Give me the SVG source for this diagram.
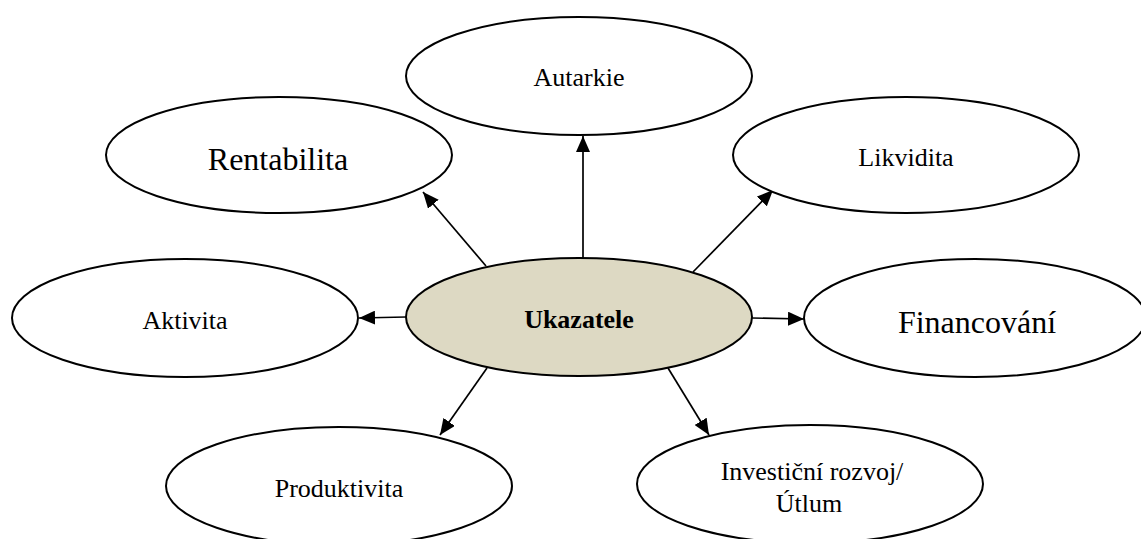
<svg xmlns="http://www.w3.org/2000/svg" width="1141" height="539" viewBox="0 0 1141 539">
<style>
.n{fill:#ffffff;stroke:#000000;stroke-width:2}
.c{fill:#DDD9C3;stroke:#000000;stroke-width:2}
.t{font-family:"Liberation Serif","Times New Roman",serif;font-size:26px;fill:#000000;text-anchor:middle}
.big{font-size:32px}
.b{font-weight:bold}
.e{stroke:#000000;stroke-width:1.7;fill:none;marker-end:url(#ah)}
</style>
<defs>
<marker id="ah" markerUnits="userSpaceOnUse" markerWidth="16" markerHeight="14" refX="16" refY="7" orient="auto">
<path d="M0,0 L16,7 L0,14 z" fill="#000000"/>
</marker>
</defs>
<rect width="1141" height="539" fill="#ffffff"/>
<g id="connectors">
<line class="e" x1="583" y1="258" x2="583" y2="136"/>
<line class="e" x1="486" y1="266" x2="423" y2="192"/>
<line class="e" x1="693" y1="272" x2="773" y2="190"/>
<line class="e" x1="406" y1="317" x2="359" y2="318"/>
<line class="e" x1="752" y1="318" x2="804" y2="319"/>
<line class="e" x1="487" y1="368" x2="440" y2="435"/>
<line class="e" x1="668" y1="368" x2="709" y2="435"/>
</g>
<g id="autarkie">
<ellipse class="n" cx="579" cy="76" rx="173" ry="59"/>
<text class="t" x="579" y="86">Autarkie</text>
</g>
<g id="rentabilita">
<ellipse class="n" cx="279" cy="155" rx="173" ry="58"/>
<text class="t big" x="278" y="170">Rentabilita</text>
</g>
<g id="likvidita">
<ellipse class="n" cx="906" cy="155" rx="173" ry="58"/>
<text class="t" x="906" y="166">Likvidita</text>
</g>
<g id="aktivita">
<ellipse class="n" cx="185" cy="318" rx="173" ry="59"/>
<text class="t" x="185" y="329">Aktivita</text>
</g>
<g id="ukazatele">
<ellipse class="c" cx="579" cy="317" rx="173" ry="59"/>
<text class="t b" x="579" y="328">Ukazatele</text>
</g>
<g id="financovani">
<ellipse class="n" cx="975" cy="318" rx="171" ry="59"/>
<text class="t big" x="977" y="333">Financování</text>
</g>
<g id="produktivita">
<ellipse class="n" cx="339" cy="486" rx="173" ry="59"/>
<text class="t" x="339" y="497">Produktivita</text>
</g>
<g id="investicni">
<ellipse class="n" cx="810" cy="484" rx="173" ry="59"/>
<text class="t" x="812" y="480">Investiční rozvoj/</text>
<text class="t" x="809" y="512">Útlum</text>
</g>
</svg>
